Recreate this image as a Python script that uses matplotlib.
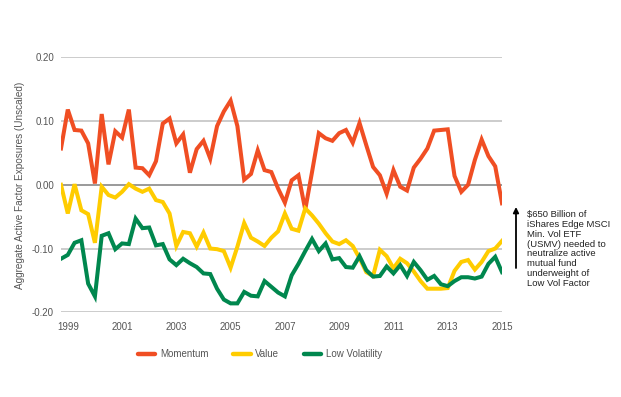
import matplotlib
matplotlib.use("Agg")
import matplotlib.pyplot as plt
import numpy as np

plt.rcParams['font.family'] = ['Liberation Sans', 'DejaVu Sans']

# Quarterly observations, Q4 1998 .. Q4 2014 (plotted at 1998.75 .. 2015.0)
start_year = 1998.75
momentum = [0.057, 0.118, 0.086, 0.085, 0.065, 0.002, 0.111, 0.032, 0.084, 0.074,
            0.118, 0.027, 0.026, 0.015, 0.037, 0.096, 0.104, 0.065, 0.079, 0.019,
            0.056, 0.069, 0.041, 0.092, 0.115, 0.132, 0.092, 0.008, 0.017, 0.054,
            0.023, 0.020, -0.006, -0.028, 0.007, 0.015, -0.039, 0.020, 0.081, 0.073,
            0.069, 0.081, 0.086, 0.066, 0.097, 0.062, 0.028, 0.015, -0.014, 0.023,
            -0.003, -0.009, 0.027, 0.041, 0.057, 0.085, 0.086, 0.087, 0.014, -0.011,
            0.000, 0.039, 0.071, 0.045, 0.029, -0.029]
value = [0.000, -0.045, 0.001, -0.040, -0.046, -0.091, -0.003, -0.016, -0.020, -0.011,
         0.001, -0.006, -0.011, -0.006, -0.024, -0.027, -0.045, -0.096, -0.074, -0.076,
         -0.097, -0.075, -0.100, -0.101, -0.104, -0.130, -0.097, -0.060, -0.083, -0.089,
         -0.096, -0.083, -0.073, -0.045, -0.069, -0.072, -0.037, -0.048, -0.061, -0.076,
         -0.089, -0.093, -0.087, -0.096, -0.115, -0.137, -0.143, -0.102, -0.112, -0.131,
         -0.116, -0.123, -0.136, -0.151, -0.163, -0.163, -0.163, -0.162, -0.135, -0.121,
         -0.118, -0.133, -0.121, -0.104, -0.100, -0.088]
low_vol = [-0.116, -0.110, -0.091, -0.087, -0.155, -0.175, -0.080, -0.076, -0.101, -0.092,
           -0.093, -0.053, -0.068, -0.067, -0.095, -0.093, -0.117, -0.126, -0.116, -0.123,
           -0.129, -0.139, -0.140, -0.163, -0.180, -0.186, -0.186, -0.168, -0.174, -0.175,
           -0.151, -0.160, -0.169, -0.175, -0.142, -0.124, -0.104, -0.085, -0.104, -0.092,
           -0.117, -0.115, -0.129, -0.130, -0.112, -0.134, -0.144, -0.143, -0.128, -0.139,
           -0.126, -0.143, -0.121, -0.134, -0.149, -0.143, -0.156, -0.159, -0.151, -0.145,
           -0.145, -0.147, -0.144, -0.124, -0.113, -0.137]
series_names = ["Momentum", "Value", "Low Volatility"]
x_ticks = [1999, 2001, 2003, 2005, 2007, 2009, 2011, 2013, 2015]
y_ticks = [-0.20, -0.10, 0.00, 0.10, 0.20]
y_title = "Aggregate Active Factor Exposures (Unscaled)"
note = ("$650 Billion of\niShares Edge MSCI\nMin. Vol ETF\n(USMV) needed to\n"
        "neutralize active\nmutual fund\nunderweight of\nLow Vol Factor")

colors = ["#F04E23", "#FFCC00", "#00874E"]

W, H = 621, 397
fig = plt.figure(figsize=(W / 100, H / 100), dpi=100)
ax = fig.add_axes([61 / W, 1 - 312.3 / H, (502 - 61) / W, (312.3 - 57.3) / H])

x = start_year + 0.25 * np.arange(len(momentum))

for yv in y_ticks:
    if yv == 0:
        ax.axhline(yv, color="#9a9a9a", lw=1.4, zorder=1)
    else:
        ax.axhline(yv, color="#c4c4c4", lw=1.2, zorder=1)

for data, name, c in zip([momentum, value, low_vol], series_names, colors):
    ax.plot(x, data, color=c, lw=2.9, label=name, zorder=3, solid_joinstyle="miter")

ax.set_xlim(x[0], x[-1])
ax.set_ylim(-0.2, 0.2)
ax.set_xticks(x_ticks)
ax.set_xticklabels([str(t) for t in x_ticks])
ax.set_yticks(y_ticks)
ax.set_yticklabels([f"{t:.2f}" for t in y_ticks])
ax.tick_params(axis="both", length=0, labelsize=7, colors="#555555")
ax.tick_params(axis="y", pad=5)
ax.tick_params(axis="x", pad=7)
for s in ax.spines.values():
    s.set_visible(False)

fig.text(20 / W, 1 - 185 / H, y_title, rotation=90, ha="center", va="center",
         fontsize=7.2, color="#555555")

leg = fig.legend(loc="center", bbox_to_anchor=(260 / W, 1 - 354 / H), ncol=3,
                 frameon=False, fontsize=7, handlelength=1.8, handletextpad=0.5,
                 columnspacing=2.5)
for t in leg.get_texts():
    t.set_color("#555555")
for l in leg.get_lines():
    l.set_linewidth(3.2)
    l.set_solid_capstyle("round")

ax.annotate("", xy=(516 / W, 1 - 207 / H), xytext=(516 / W, 1 - 268 / H),
            xycoords="figure fraction", textcoords="figure fraction",
            arrowprops=dict(arrowstyle="-|>", color="black", lw=1.3,
                            mutation_scale=8, shrinkA=0, shrinkB=0))
fig.text(527 / W, 1 - 210 / H, note, ha="left", va="top", fontsize=6.8,
         color="#222222", linespacing=1.12)

fig.savefig("out.png", dpi=100)
